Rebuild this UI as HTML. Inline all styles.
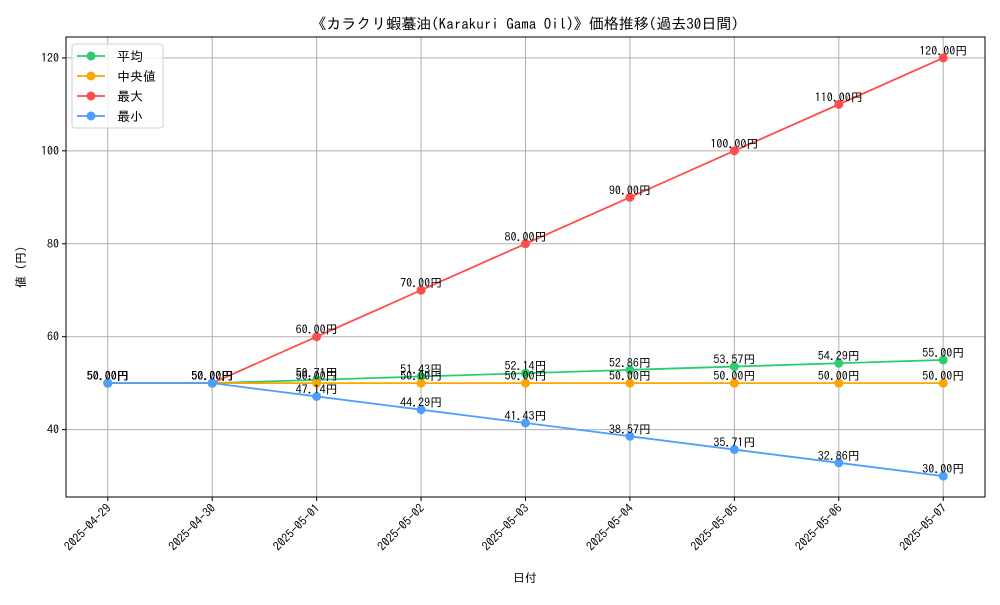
<!DOCTYPE html>
<html><head><meta charset="utf-8"><style>
body{margin:0;background:#fff}
svg text{font-family:"IPAGothic","Liberation Mono","Noto Sans CJK JP",monospace;fill:#000}
</style></head><body>
<svg id="chart" width="1000" height="600" xmlns="http://www.w3.org/2000/svg"></svg>
<script>
const dates=["2025-04-29","2025-04-30","2025-05-01","2025-05-02","2025-05-03","2025-05-04","2025-05-05","2025-05-06","2025-05-07"];
const avgVals=[50,50,50.71,51.43,52.14,52.86,53.57,54.29,55];
const medVals=[50,50,50,50,50,50,50,50,50];
const maxVals=[50,50,60,70,80,90,100,110,120];
const minVals=[50,50,47.14,44.29,41.43,38.57,35.71,32.86,30];
const yTicks=[40,60,80,100,120];
const seriesNames=["平均","中央値","最大","最小"];
const seriesColors=["#2ecc71","#ffa500","#ff4d4d","#4d9fff"];
const seriesData=[avgVals,medVals,maxVals,minVals];

const svg=document.getElementById('chart');
const NS="http://www.w3.org/2000/svg";
const L=66,R=985,T=37,B=497,yMin=25.5,yMax=124.5;
const xS=i=>L+(i+0.4)*(R-L)/(dates.length-1+0.8);
const yS=v=>B-(v-yMin)*(B-T)/(yMax-yMin);
function mk(tag,attrs,parent){const e=document.createElementNS(NS,tag);for(const k in attrs)e.setAttribute(k,attrs[k]);(parent||svg).appendChild(e);return e;}

// grid
dates.forEach((d,i)=>{
  const g=mk('line',{x1:xS(i),x2:xS(i),y1:T,y2:B,stroke:'#b0b0b0','stroke-width':1});
  
  
  mk('line',{x1:xS(i),x2:xS(i),y1:B,y2:B+4,stroke:'#000'});
  const t=mk('text',{x:0,y:0,'font-size':12,'text-anchor':'end',transform:`translate(${xS(i)+4},${B+12}) rotate(-45)`});
  t.textContent=d;
  
  
});
yTicks.forEach(v=>{
  const g=mk('line',{x1:L,x2:R,y1:yS(v),y2:yS(v),stroke:'#b0b0b0','stroke-width':1});
  
  
  mk('line',{x1:L-4,x2:L,y1:yS(v),y2:yS(v),stroke:'#000'});
  const t=mk('text',{x:L-7,y:yS(v)+4,'font-size':12,'text-anchor':'end'});
  t.textContent=v;
  
  
});
const frame=mk('rect',{x:L,y:T,width:R-L,height:B-T,fill:'none',stroke:'#000','stroke-width':1});



// series
seriesData.forEach((vals,s)=>{
  const pts=vals.map((v,i)=>xS(i)+','+yS(v)).join(' ');
  const pl=mk('polyline',{points:pts,fill:'none',stroke:seriesColors[s],'stroke-width':1.8});
  
  
  vals.forEach((v,i)=>{
    const c=mk('circle',{cx:xS(i),cy:yS(v),r:4.5,fill:seriesColors[s]});
    
    
    const t=mk('text',{x:xS(i),y:yS(v)-3,'font-size':12,'text-anchor':'middle'});
    t.textContent=v.toFixed(2)+'円';
    
    
  });
});

// legend
const lg=mk('g',{});


mk('rect',{x:72,y:44,width:91,height:84,rx:3,fill:'#fff','fill-opacity':0.8,stroke:'#d0d0d0'},lg);
seriesNames.forEach((n,s)=>{
  const y=56+s*20;
  const e=mk('g',{},lg);
  
  
  mk('line',{x1:77,x2:105,y1:y,y2:y,stroke:seriesColors[s],'stroke-width':1.8},e);
  mk('circle',{cx:91,cy:y,r:4.5,fill:seriesColors[s]},e);
  const t=mk('text',{x:117,y:y+5,'font-size':13},e);
  t.textContent=n;
});

const title=mk('text',{x:525,y:29,'font-size':15,'text-anchor':'middle'});
title.textContent='《カラクリ蝦蟇油(Karakuri Gama Oil)》価格推移(過去30日間)';


const xt=mk('text',{x:525,y:582,'font-size':12,'text-anchor':'middle'});
xt.textContent='日付';


const yt=mk('text',{x:0,y:0,'font-size':12,'text-anchor':'middle',transform:'translate(25,267) rotate(-90)'});
yt.textContent='値 (円)';


</script>
</body></html>
